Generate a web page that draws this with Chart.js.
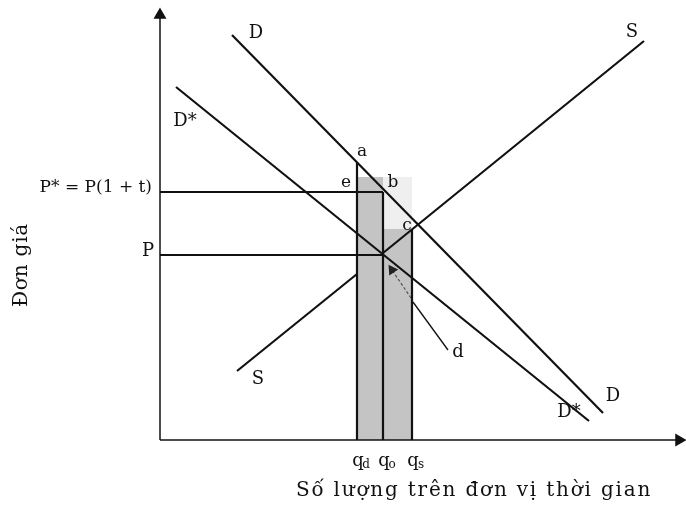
<!DOCTYPE html>
<html lang="vi">
<head>
<meta charset="UTF-8">
<title>Thuế và cung cầu</title>
<script src="https://cdn.jsdelivr.net/npm/chart.js"></script>
<style>
  html, body { margin: 0; padding: 0; background: #fff; }
  #wrap { width: 686px; height: 508px; position: relative; }
</style>
</head>
<body>
<div id="wrap"><canvas id="chart" width="686" height="508"></canvas></div>
<script>
// schematic units: quantity 0..525, price 0..431 (no numbers on the axes)
const demandD     = [{x: 72, y: 405}, {x: 443, y: 27}];
const demandStar  = [{x: 16, y: 353}, {x: 429, y: 19}];
const supplyLow   = [{x: 77, y: 69},  {x: 197, y: 166}];
const supplyHigh  = [{x: 223, y: 187}, {x: 484, y: 399}];

const qd = 197, qo = 223, qs = 252;
const priceP = 185, priceStar = 248;
const topA = 277, topC = 211, shadeTop = 263;

const pStarLine = [{x: 0, y: priceStar}, {x: qo, y: priceStar}];
const pLine     = [{x: 0, y: priceP}, {x: qo, y: priceP}];
const qdLine    = [{x: qd, y: 0}, {x: qd, y: topA}];
const qoLine    = [{x: qo, y: 0}, {x: qo, y: priceStar}];
const qsLine    = [{x: qs, y: 0}, {x: qs, y: topC}];

const shadeLeft  = [{x: qd + 1, y: shadeTop}, {x: qo, y: shadeTop}];
const shadeRight = [{x: qo, y: topC}, {x: qs, y: topC}];
const paleRight  = [{x: qo, y: shadeTop}, {x: qs, y: shadeTop}];

const arrowSolid  = [{x: 288, y: 90}, {x: 253, y: 138}];
const arrowDotted = [{x: 251, y: 142}, {x: 232, y: 170}];

const yAxisLine = [{x: 0, y: 0}, {x: 0, y: 425}];
const xAxisLine = [{x: 0, y: 0}, {x: 519, y: 0}];

const serif = "'DejaVu Serif', 'Liberation Serif', serif";

function seg(data, extra) {
    return Object.assign({
        type: 'line', data: data, borderColor: '#111', borderWidth: 2.2,
        pointRadius: 0, fill: false, tension: 0, order: 1
    }, extra || {});
}

// text labels placed in chart units
const labelPlugin = {
    id: 'labels',
    afterDatasetsDraw(chart) {
        const ctx = chart.ctx;
        const xs = chart.scales.x, ys = chart.scales.y;
        const px = v => xs.getPixelForValue(v);
        const py = v => ys.getPixelForValue(v);
        ctx.save();
        ctx.fillStyle = '#111';
        ctx.textBaseline = 'middle';

        function txt(s, x, y, size, align, spacing) {
            ctx.font = size + 'px ' + serif;
            ctx.textAlign = align || 'center';
            ctx.letterSpacing = (spacing || 0) + 'px';
            ctx.fillText(s, x, y);
        }
        txt('D', px(96), py(407), 18);
        txt('S', px(472), py(408), 18);
        txt('D*', px(25), py(319), 18);
        txt('S', px(98), py(61), 18);
        txt('D', px(453), py(44), 18);
        txt('D*', px(409), py(28), 18);
        txt('a', px(202), py(288), 17);
        txt('e', px(186), py(257), 17);
        txt('b', px(233), py(257), 17);
        txt('c', px(247), py(214), 17);
        txt('d', px(298), py(88), 18);
        txt('P* = P(1 + t)', px(-8), py(252), 17, 'right');
        txt('P', px(-6), py(189), 18, 'right');

        // quantity labels with subscripts
        const subs = [[qd, 'd'], [qo, 'o'], [qs, 's']];
        subs.forEach(function (s) {
            const x = px(s[0]) + 4, y = py(0) + 21;
            txt('q', x - 3, y, 18);
            txt(s[1], x + 5, y + 4, 12);
        });

        txt('Số lượng trên đơn vị thời gian', px(314), py(-51), 20, 'center', 1.8);

        ctx.translate(22, py(175));
        ctx.rotate(-Math.PI / 2);
        txt('Đơn giá', 0, 0, 20, 'center', 0.8);
        ctx.restore();
    }
};

new Chart(document.getElementById('chart'), {
    type: 'line',
    data: {
        datasets: [
            seg(demandD),
            seg(demandStar),
            seg(supplyLow),
            seg(supplyHigh),
            seg(pStarLine),
            seg(pLine),
            seg(qdLine),
            seg(qoLine),
            seg(qsLine),
            seg(arrowSolid, {borderWidth: 1.3}),
            seg(arrowDotted, {
                borderWidth: 1.2, borderColor: '#555', borderDash: [3, 2],
                pointRadius: [0, 5], pointStyle: 'triangle', rotation: -34,
                pointBackgroundColor: '#222', pointBorderColor: '#222'
            }),
            seg(yAxisLine, {
                borderWidth: 1.5, clip: false, pointRadius: [0, 6],
                pointStyle: 'triangle', rotation: 0,
                pointBackgroundColor: '#111', pointBorderColor: '#111'
            }),
            seg(xAxisLine, {
                borderWidth: 1.5, clip: false, pointRadius: [0, 6],
                pointStyle: 'triangle', rotation: 90,
                pointBackgroundColor: '#111', pointBorderColor: '#111'
            }),
            seg(shadeLeft,  {borderWidth: 0, backgroundColor: '#c4c4c4', fill: 'origin', order: 5}),
            seg(shadeRight, {borderWidth: 0, backgroundColor: '#c4c4c4', fill: 'origin', order: 5}),
            seg(paleRight,  {borderWidth: 0, backgroundColor: '#efefef', fill: 'origin', order: 6})
        ]
    },
    options: {
        responsive: false,
        animation: false,
        layout: { autoPadding: false, padding: { left: 160, right: 1, top: 9, bottom: 68 } },
        plugins: { legend: { display: false }, tooltip: { enabled: false } },
        scales: {
            x: { type: 'linear', min: 0, max: 525, display: false },
            y: { type: 'linear', min: 0, max: 431, display: false }
        }
    },
    plugins: [labelPlugin]
});
</script>
</body>
</html>
